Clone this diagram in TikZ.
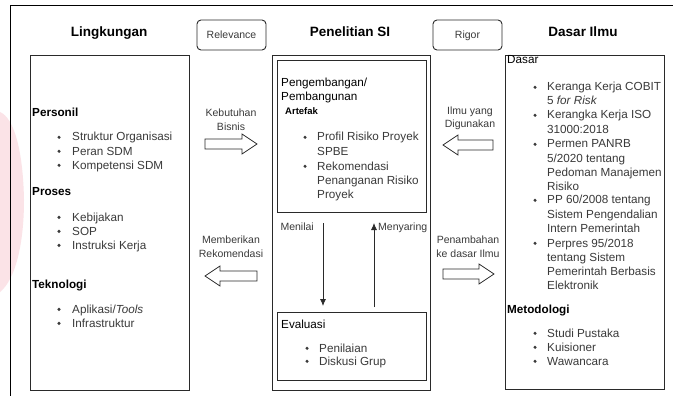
\documentclass[tikz,border=0pt]{standalone}
\usepackage{fontspec}
\setmainfont{Liberation Sans}
\usetikzlibrary{arrows.meta}
\definecolor{boxc}{HTML}{2A2A2A}
\definecolor{txtc}{HTML}{3A3A3A}
\definecolor{wmark}{HTML}{FBE3E7}
\newcommand\tl[5]{\node[#1] (#2) at (#3,#4+4) {#5};}
\newcommand\bl[2]{\fill[txtc] (#1,#2+0.3) circle (1.7);}
\newcommand\blockarrow[3]{%
  \pgfmathsetmacro\dd{(#2>#1)?1:-1}%
  \pgfmathsetmacro\hb{#2-15*\dd}%
  \draw[barr] (#1,#3-5) -- (\hb,#3-5) -- (\hb,#3-10) -- (#2,#3) -- (\hb,#3+10) -- (\hb,#3+5) -- (#1,#3+5) -- cycle;}
\tikzset{
  frame/.style={draw=black, line width=0.9pt},
  box/.style={draw=boxc, line width=0.9pt, inner sep=0pt},
  rbox/.style={draw=boxc, line width=0.9pt, rounded corners=4pt, inner sep=0pt,
     font=\fontsize{10.5}{12}\selectfont, text=txtc, text height=7.6pt, text depth=0pt},
  ttl/.style={font=\fontsize{13.5}{16}\selectfont\bfseries, anchor=base, inner sep=0pt},
  hd/.style={font=\fontsize{11.7}{14}\selectfont\bfseries, anchor=base west, inner sep=0pt},
  hr/.style={font=\fontsize{11.7}{14}\selectfont, anchor=base west, inner sep=0pt},
  tx/.style={font=\fontsize{11.7}{14}\selectfont, text=txtc, anchor=base west, inner sep=0pt},
  sm/.style={font=\fontsize{9.5}{11}\selectfont\bfseries, anchor=base west, inner sep=0pt},
  lbl/.style={font=\fontsize{10.5}{12}\selectfont, text=txtc, anchor=base, inner sep=0pt},
  lble/.style={font=\fontsize{10.5}{12}\selectfont, text=txtc, anchor=base east, inner sep=0pt},
  lblw/.style={font=\fontsize{10.5}{12}\selectfont, text=txtc, anchor=base west, inner sep=0pt},
  barr/.style={draw=boxc, line width=0.8pt, fill=white},
  flow/.style={draw=boxc, line width=0.8pt, -{Latex[length=7pt,width=6pt]}}
}
\begin{document}
\begin{tikzpicture}[x=1pt,y=-1pt]
\useasboundingbox (0,0) rectangle (673,396);
\fill[white] (0,0) rectangle (673,396);
% faint watermark at the left edge
\fill[wmark] (0,112) .. controls (14,118) and (23,150) .. (24,200)
  .. controls (24,245) and (15,280) .. (0,292) -- cycle;
% outer frame
\draw[frame] (673,5) -- (10,5) -- (10,396);
% titles
\node[ttl] (tL) at (109,37) {Lingkungan};
\node[ttl] (tP) at (350,37) {Penelitian SI};
\node[ttl] (tD) at (583,37) {Dasar Ilmu};
\node[rbox, minimum width=69, minimum height=30] (rel) at (231.5,35) {Relevance};
\node[rbox, minimum width=69, minimum height=30] (rig) at (467.5,35) {Rigor};
% boxes
\node[box, minimum width=159, minimum height=335] (lk) at (109.5,222.5) {};
\node[box, minimum width=159, minimum height=334] (di) at (584.5,222) {};
\node[box, minimum width=158, minimum height=335] (ps) at (351,222.5) {};
\node[box, minimum width=149, minimum height=152] (pb) at (351.5,136) {};
\node[box, minimum width=149, minimum height=68] (ev) at (351.5,346) {};
% left box text
\tl{hd}{l1}{32}{113}{Personil}
\bl{59}{137}\tl{tx}{l2}{72}{137}{Struktur Organisasi}
\bl{59}{151}\tl{tx}{l3}{72}{151}{Peran SDM}
\bl{59}{165}\tl{tx}{l4}{72}{165}{Kompetensi SDM}
\tl{hd}{l5}{32}{191}{Proses}
\bl{59}{217}\tl{tx}{l6}{72}{217}{Kebijakan}
\bl{59}{231}\tl{tx}{l7}{72}{231}{SOP}
\bl{59}{245}\tl{tx}{l8}{72}{245}{Instruksi Kerja}
\tl{hd}{l9}{32}{284}{Teknologi}
\bl{59}{309}\tl{tx}{l10}{72}{309}{Aplikasi/\textit{Tools}}
\bl{59}{323}\tl{tx}{l11}{72}{323}{Infrastruktur}
% centre upper box text
\tl{hr}{c1}{281}{83}{Pengembangan/}
\tl{hr}{c2}{281}{97}{Pembangunan}
\tl{sm}{c3}{285}{110}{Artefak}
\bl{305}{137}\tl{tx}{c4}{317}{137}{Profil Risiko Proyek}
\tl{tx}{c5}{317}{151}{SPBE}
\bl{305}{166}\tl{tx}{c6}{317}{166}{Rekomendasi}
\tl{tx}{c7}{317}{180}{Penanganan Risiko}
\tl{tx}{c8}{317}{194}{Proyek}
% centre lower box text
\tl{hr}{e1}{281}{324}{Evaluasi}
\bl{307}{348}\tl{tx}{e2}{319}{348}{Penilaian}
\bl{307}{361}\tl{tx}{e3}{319}{361}{Diskusi Grup}
% right box text
\tl{hr}{r0}{507}{60}{Dasar}
\bl{535}{87}\tl{tx}{r1}{547}{87}{Keranga Kerja COBIT}
\tl{tx}{r2}{547}{101}{5 \textit{for Risk}}
\bl{535}{115}\tl{tx}{r3}{547}{115}{Kerangka Kerja ISO}
\tl{tx}{r4}{547}{129}{31000:2018}
\bl{535}{144}\tl{tx}{r5}{547}{144}{Permen PANRB}
\tl{tx}{r6}{547}{158}{5/2020 tentang}
\tl{tx}{r7}{547}{172}{Pedoman Manajemen}
\tl{tx}{r8}{547}{186}{Risiko}
\bl{535}{200}\tl{tx}{r9}{547}{200}{PP 60/2008 tentang}
\tl{tx}{r10}{547}{214}{Sistem Pengendalian}
\tl{tx}{r11}{547}{228}{Intern Pemerintah}
\bl{535}{243}\tl{tx}{r12}{547}{243}{Perpres 95/2018}
\tl{tx}{r13}{547}{257}{tentang Sistem}
\tl{tx}{r14}{547}{271}{Pemerintah Berbasis}
\tl{tx}{r15}{547}{285}{Elektronik}
\tl{hd}{r16}{507}{309}{Metodologi}
\bl{535}{333}\tl{tx}{r17}{547}{333}{Studi Pustaka}
\bl{535}{347}\tl{tx}{r18}{547}{347}{Kuisioner}
\bl{535}{361}\tl{tx}{r19}{547}{361}{Wawancara}
% arrow labels
\tl{lbl}{k1}{231}{113}{Kebutuhan}
\tl{lbl}{k2}{231}{127}{Bisnis}
\tl{lbl}{i1}{470}{110}{Ilmu yang}
\tl{lbl}{i2}{470}{124}{Digunakan}
\tl{lbl}{m1}{231}{239}{Memberikan}
\tl{lbl}{m2}{231}{253}{Rekomendasi}
\tl{lbl}{p1}{468}{239}{Penambahan}
\tl{lbl}{p2}{468}{253}{ke dasar Ilmu}
\tl{lble}{mn}{314}{226}{Menilai}
\tl{lblw}{my}{378}{226}{Menyaring}
% block arrows
\blockarrow{205}{257}{144}
\blockarrow{493}{443}{145}
\blockarrow{257}{205}{276}
\blockarrow{443}{494}{274}
% flow arrows
\coordinate (da) at (323,223);
\coordinate (db) at (323,306);
\coordinate (ua) at (374,307);
\coordinate (ub) at (374,223);
\draw[flow] (da) -- (db);
\draw[flow] (ua) -- (ub);
\end{tikzpicture}
\end{document}
